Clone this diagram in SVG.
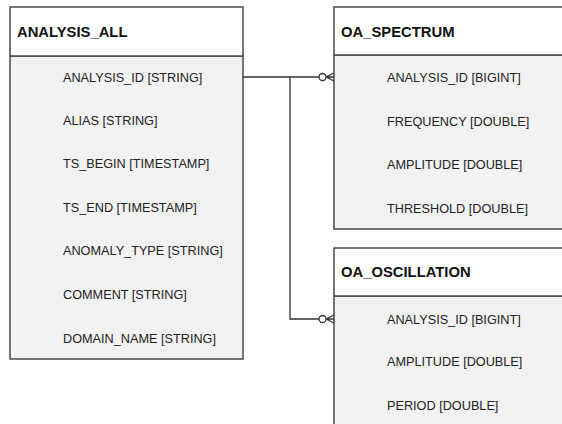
<svg xmlns="http://www.w3.org/2000/svg" width="562" height="424" viewBox="0 0 562 424">
<style>
.hdr{fill:#ffffff;stroke:#4a4a4a;stroke-width:1.5}
.body{fill:#f2f2f2;stroke:#4a4a4a;stroke-width:1.5}
.title{font-family:"Liberation Sans",Arial,sans-serif;font-weight:bold;font-size:14.8px;fill:#111}
.fld{font-family:"Liberation Sans",Arial,sans-serif;font-size:12.7px;fill:#222}
.conn{fill:none;stroke:#333;stroke-width:1.3}
</style>
<rect width="562" height="424" fill="#ffffff"/>
<g id="ANALYSIS_ALL">
<rect class="body" x="10" y="56" width="233" height="303"/>
<rect class="hdr" x="10" y="7" width="233" height="49"/>
<text class="title" x="17" y="37">ANALYSIS_ALL</text>
<text class="fld" x="63" y="82">ANALYSIS_ID [STRING]</text>
<text class="fld" x="63" y="125">ALIAS [STRING]</text>
<text class="fld" x="63" y="168">TS_BEGIN [TIMESTAMP]</text>
<text class="fld" x="63" y="212">TS_END [TIMESTAMP]</text>
<text class="fld" x="63" y="255">ANOMALY_TYPE [STRING]</text>
<text class="fld" x="63" y="299">COMMENT [STRING]</text>
<text class="fld" x="63" y="343">DOMAIN_NAME [STRING]</text>
</g>
<g id="OA_SPECTRUM">
<rect class="body" x="334" y="55" width="240" height="174"/>
<rect class="hdr" x="334" y="7" width="240" height="48"/>
<text class="title" x="341" y="37">OA_SPECTRUM</text>
<text class="fld" x="387" y="82">ANALYSIS_ID [BIGINT]</text>
<text class="fld" x="387" y="126">FREQUENCY [DOUBLE]</text>
<text class="fld" x="387" y="169">AMPLITUDE [DOUBLE]</text>
<text class="fld" x="387" y="213">THRESHOLD [DOUBLE]</text>
</g>
<g id="OA_OSCILLATION">
<rect class="body" x="334" y="296" width="240" height="140"/>
<rect class="hdr" x="334" y="248" width="240" height="48"/>
<text class="title" x="341" y="277">OA_OSCILLATION</text>
<text class="fld" x="387" y="324">ANALYSIS_ID [BIGINT]</text>
<text class="fld" x="387" y="366">AMPLITUDE  [DOUBLE]</text>
<text class="fld" x="387" y="410">PERIOD [DOUBLE]</text>
</g>
<g id="connectors">
<path class="conn" d="M243,77 H319"/>
<circle class="conn" cx="322.5" cy="77" r="3.5" fill="#fff"/>
<path class="conn" d="M326,77 L334,73 M326,77 L334,81 M326,77 H334"/>
<path class="conn" d="M290,77 V319 H319"/>
<circle class="conn" cx="322.5" cy="319" r="3.5" fill="#fff"/>
<path class="conn" d="M326,319 L334,315 M326,319 L334,323 M326,319 H334"/>
</g>
</svg>
